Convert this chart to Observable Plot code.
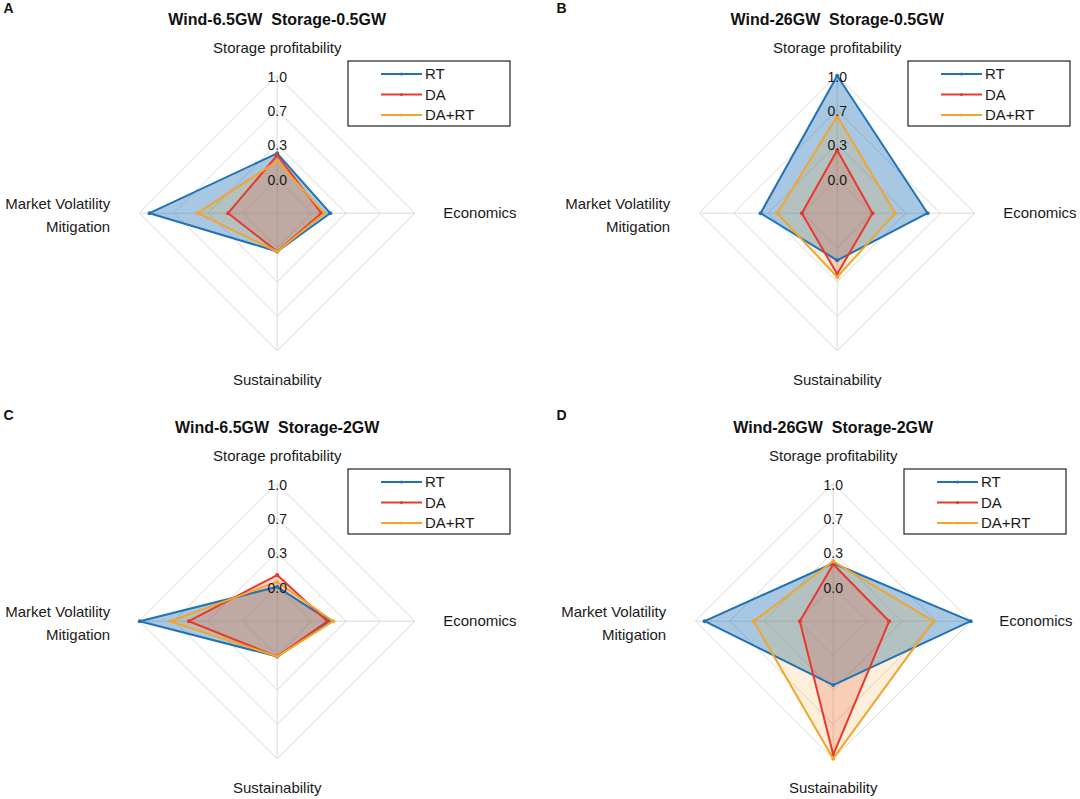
<!DOCTYPE html>
<html>
<head>
<meta charset="utf-8">
<script src="https://cdn.jsdelivr.net/npm/d3@7"></script>
<script src="https://cdn.jsdelivr.net/npm/@observablehq/plot@0.6"></script>
<style>
  html, body { margin: 0; padding: 0; background: #fff; }
  body { font-family: Arial, "Liberation Sans", sans-serif; }
  #root { position: relative; width: 1080px; height: 799px; overflow: hidden; background: #fff; }
  .panel { position: absolute; }
  .panel svg { overflow: visible; }
  .legend { position: absolute; pointer-events: none; }
</style>
</head>
<body>
<div id="root"></div>
<script>
// ---------- data ----------
const axisNames = ["Storage profitability", "Economics", "Sustainability", "Market Volatility\nMitigation"];
const seriesNames = ["RT", "DA", "DA+RT"];
const seriesColors = ["#2272b6", "#e8392c", "#f2a52a"];
const seriesFillOpacity = [0.4, 0.2, 0.18];
const tickValues = [1.0, 0.65, 0.3, -0.05];
const tickLabels = ["1.0", "0.7", "0.3", "0.0"];
const radialMin = -0.4;
const radialMax = 1.0;

const panelLetters = ["A", "B", "C", "D"];
const panelTitles = ["Wind-6.5GW\u00a0 Storage-0.5GW", "Wind-26GW\u00a0 Storage-0.5GW", "Wind-6.5GW\u00a0 Storage-2GW", "Wind-26GW\u00a0 Storage-2GW"];

// values per series, axis order: Storage profitability, Economics, Sustainability, Market Volatility Mitigation
const panelA_RT   = [0.21, 0.14, -0.01, 0.90];
const panelA_DA   = [0.19, 0.05, -0.01, 0.10];
const panelA_DART = [0.13, 0.08, -0.01, 0.41];

const panelB_RT   = [1.00, 0.52, 0.08, 0.38];
const panelB_DA   = [0.24, -0.04, 0.22, -0.04];
const panelB_DART = [0.59, 0.19, 0.25, 0.21];

const panelC_RT   = [-0.05, 0.14, -0.04, 1.00];
const panelC_DA   = [0.07, 0.11, -0.04, 0.50];
const panelC_DART = [0.00, 0.17, -0.04, 0.69];

const panelD_RT   = [0.19, 1.00, 0.25, 0.91];
const panelD_DA   = [0.18, 0.17, 0.96, -0.06];
const panelD_DART = [0.21, 0.62, 1.00, 0.41];

const panelValues = [
  [panelA_RT, panelA_DA, panelA_DART],
  [panelB_RT, panelB_DA, panelB_DART],
  [panelC_RT, panelC_DA, panelC_DART],
  [panelD_RT, panelD_DA, panelD_DART]
];

// ---------- layout ----------
const layout = [
  {left: 0,   top: 0,   w: 540, h: 400, cx: 276.7, cy: 212.7, lx: 3,  ly: 3},
  {left: 540, top: 0,   w: 540, h: 400, cx: 296.7, cy: 212.7, lx: 16, ly: 3},
  {left: 0,   top: 400, w: 540, h: 399, cx: 276.7, cy: 220.7, lx: 3,  ly: 10},
  {left: 540, top: 400, w: 540, h: 399, cx: 292.7, cy: 220.7, lx: 16, ly: 10}
];
const R = 137.5;

const rad = v => (v - radialMin) / (radialMax - radialMin);
const angle = i => i * Math.PI / 2;
const px = (i, v) => rad(v) * Math.sin(angle(i));
const py = (i, v) => rad(v) * Math.cos(angle(i));

const root = document.getElementById("root");
const FONT = 'Arial, "Liberation Sans", sans-serif';

panelValues.forEach((vals, p) => {
  const L = layout[p];
  const u = pxv => pxv / R; // pixel offset -> unit

  const ringPts = [];
  tickValues.forEach(t => axisNames.forEach((a, i) => ringPts.push({tick: t, x: px(i, t), y: py(i, t)})));

  const spokes = axisNames.map((a, i) => ({x1: 0, y1: 0, x2: px(i, radialMax), y2: py(i, radialMax)}));

  const seriesPts = vals.map((arr, s) => arr.map((v, i) => ({series: seriesNames[s], x: px(i, v), y: py(i, v)})));

  const marks = [
    Plot.line(ringPts, {x: "x", y: "y", z: "tick", curve: "linear-closed", stroke: "#d9d9d9", strokeWidth: 1}),
    Plot.link(spokes, {x1: "x1", y1: "y1", x2: "x2", y2: "y2", stroke: "#d9d9d9", strokeWidth: 1})
  ];
  seriesPts.forEach((pts, s) => {
    marks.push(Plot.line(pts, {x: "x", y: "y", curve: "linear-closed", stroke: "none", fill: seriesColors[s], fillOpacity: seriesFillOpacity[s]}));
  });
  seriesPts.forEach((pts, s) => {
    marks.push(Plot.line(pts, {x: "x", y: "y", curve: "linear-closed", stroke: seriesColors[s], strokeWidth: 2, strokeLinejoin: "miter"}));
    marks.push(Plot.dot(pts, {x: "x", y: "y", r: 2, fill: seriesColors[s], stroke: "none"}));
  });
  // radial tick labels
  marks.push(Plot.text(tickValues, {x: 0, y: d => rad(d) - u(1.5), text: (d, i) => tickLabels[i], fontSize: 14, fill: "#1a1a1a", fontFamily: FONT}));
  // axis labels
  marks.push(Plot.text([axisNames[0]], {x: 0, y: u(165.4), text: d => d, fontSize: 15, fill: "#1a1a1a", fontFamily: FONT}));
  marks.push(Plot.text([axisNames[1]], {x: u(166), y: 0, text: d => d, textAnchor: "start", fontSize: 15, fill: "#1a1a1a", fontFamily: FONT}));
  marks.push(Plot.text([axisNames[2]], {x: 0, y: -u(167.3), text: d => d, fontSize: 15, fill: "#1a1a1a", fontFamily: FONT}));
  marks.push(Plot.text([axisNames[3]], {x: -u(167), y: 0, text: d => d, textAnchor: "end", lineHeight: 1.5, fontSize: 15, fill: "#1a1a1a", fontFamily: FONT}));
  // title
  marks.push(Plot.text([panelTitles[p]], {x: 0, y: u(193.4), text: d => d, fontSize: 16, fontWeight: "bold", fill: "#111", fontFamily: FONT}));
  // panel letter
  marks.push(Plot.text([panelLetters[p]], {frameAnchor: "top-left", dx: L.lx, dy: L.ly, text: d => d, textAnchor: "start", lineAnchor: "top", fontSize: 14, fontWeight: "bold", fill: "#111", fontFamily: FONT}));

  const chart = Plot.plot({
    width: L.w,
    height: L.h,
    margin: 0,
    style: {background: "transparent", fontFamily: FONT},
    x: {domain: [-L.cx / R, (L.w - L.cx) / R], range: [0, L.w], axis: null},
    y: {domain: [-(L.h - L.cy) / R, L.cy / R], range: [L.h, 0], axis: null},
    marks
  });

  const div = document.createElement("div");
  div.className = "panel";
  div.style.left = L.left + "px";
  div.style.top = L.top + "px";
  div.appendChild(chart);
  root.appendChild(div);

  // legend
  const lg = d3.create("svg")
    .attr("class", "legend")
    .attr("width", 164).attr("height", 67)
    .style("left", (L.left + L.cx + 71.6 - 1) + "px")
    .style("top", (L.top + L.cy - 152.2 - 1) + "px");
  lg.append("rect").attr("x", 1).attr("y", 1).attr("width", 162).attr("height", 65)
    .attr("fill", "#fff").attr("stroke", "#222").attr("stroke-width", 1.2);
  seriesNames.forEach((name, s) => {
    const yy = 14 + s * 20.5;
    lg.append("line").attr("x1", 34).attr("x2", 75).attr("y1", yy).attr("y2", yy)
      .attr("stroke", seriesColors[s]).attr("stroke-width", 2);
    lg.append("circle").attr("cx", 54.5).attr("cy", yy).attr("r", 1.5).attr("fill", seriesColors[s]);
    lg.append("text").attr("x", 78).attr("y", yy).attr("dy", "0.36em")
      .attr("font-size", 15).attr("font-family", FONT).attr("fill", "#1a1a1a").text(name);
  });
  root.appendChild(lg.node());
});
</script>
</body>
</html>
